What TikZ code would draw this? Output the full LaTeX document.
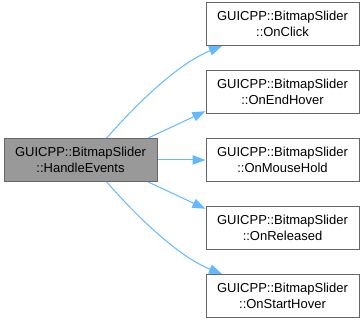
\documentclass[tikz,border=0pt]{standalone}
\usepackage{fontspec}
\setmainfont{Liberation Sans}
\usetikzlibrary{arrows.meta,positioning}

\definecolor{edgeblue}{HTML}{63B8FF}
\definecolor{boxline}{HTML}{666666}
\definecolor{rootfill}{HTML}{999999}

\begin{document}
\begin{tikzpicture}[
    x=1pt, y=1pt,
    node distance=24pt and 48pt,
    fn/.style={rectangle, draw=boxline, line width=1pt, fill=white,
               minimum width=153pt, minimum height=43pt, inner sep=2pt,
               align=center, font=\fontsize{13}{15.6}\selectfont},
    root/.style={fn, fill=rootfill},
    call/.style={-{Triangle[length=13pt,width=9.5pt]}, draw=edgeblue,
                 line width=1pt}
]
\useasboundingbox (0,0) rectangle (363,320);

%% ── Nodes ───────────────────────────────────────────────────────
\node[root] (handle) at (80.5,160) {GUICPP::BitmapSlider\\::HandleEvents};

\node[fn, right=of handle] (hold)     {GUICPP::BitmapSlider\\::OnMouseHold};
\node[fn, above=of hold]   (endhover) {GUICPP::BitmapSlider\\::OnEndHover};
\node[fn, above=of endhover] (click)  {GUICPP::BitmapSlider\\::OnClick};
\node[fn, below=of hold]   (released) {GUICPP::BitmapSlider\\::OnReleased};
\node[fn, below=of released] (starthover) {GUICPP::BitmapSlider\\::OnStartHover};

%% ── Calls ───────────────────────────────────────────────────────
\draw[call] (handle.40) .. controls +(28,32) and +(-45,-18) .. (click.200);
\draw[call] (handle.18)  -- (endhover.194);
\draw[call] (handle.east) -- (hold.west);
\draw[call] (handle.-18) -- (released.166);
\draw[call] (handle.-40) .. controls +(28,-32) and +(-45,18) .. (starthover.160);

\end{tikzpicture}
\end{document}
